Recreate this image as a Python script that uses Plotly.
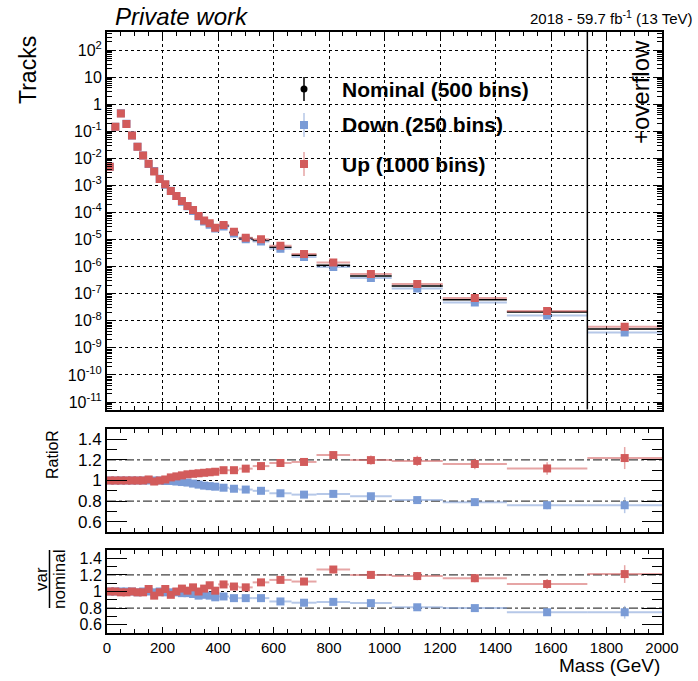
import plotly.graph_objects as go

# ---------------- data ----------------
bin_edges = [0, 20, 40, 60, 80, 100, 120, 140, 160, 180, 200, 220, 240, 260, 280, 300,
             320, 340, 360, 380, 400, 440, 475, 525, 585, 665, 755, 876, 1026, 1210,
             1441, 1731, 2000]
overflow_start = 1731

nominal = [4.9e-3, 0.148, 0.461, 0.188, 0.0692, 0.0272, 0.0127, 6.12e-3, 3.40e-3, 1.75e-3,
           1.06e-3, 6.43e-4, 4.07e-4, 2.54e-4, 1.72e-4, 1.17e-4, 7.41e-5, 4.84e-5, 3.71e-5,
           2.73e-5, 3.20e-5, 1.84e-5, 1.12e-5, 9.23e-6, 5.16e-6, 2.64e-6, 1.12e-6, 4.48e-7,
           1.93e-7, 5.97e-8, 2.10e-8, 4.98e-9]
down = [4.9e-3, 0.148, 0.461, 0.188, 0.0692, 0.0269, 0.0127, 6.12e-3, 3.37e-3, 1.75e-3,
        1.05e-3, 6.37e-4, 4.03e-4, 2.49e-4, 1.69e-4, 1.13e-4, 7.04e-5, 4.65e-5, 3.52e-5,
        2.54e-5, 3.01e-5, 1.69e-5, 1.03e-5, 8.49e-6, 4.54e-6, 2.28e-6, 9.80e-7, 3.85e-7,
        1.56e-7, 4.78e-8, 1.58e-8, 3.74e-9]
up = [4.9e-3, 0.148, 0.457, 0.186, 0.0692, 0.0269, 0.0126, 6.31e-3, 3.24e-3, 1.74e-3,
      1.10e-3, 6.17e-4, 4.07e-4, 2.63e-4, 1.74e-4, 1.23e-4, 7.41e-5, 5.01e-5, 3.98e-5,
      2.75e-5, 3.47e-5, 1.95e-5, 1.17e-5, 1.02e-5, 5.89e-6, 2.95e-6, 1.41e-6, 5.37e-7,
      2.29e-7, 6.92e-8, 2.29e-8, 6.03e-9]

ratioR_up = [1.0, 1.0, 1.0, 1.0, 1.0, 1.0, 1.0, 1.01, 0.99, 1.0, 1.01, 1.03, 1.04, 1.05,
             1.06, 1.065, 1.07, 1.075, 1.08, 1.085, 1.10, 1.10, 1.115, 1.14, 1.17, 1.18,
             1.247, 1.198, 1.19, 1.16, 1.117, 1.218]
ratioR_down = [1.0, 1.0, 1.0, 1.0, 1.0, 1.0, 1.0, 1.0, 1.0, 1.0, 0.995, 0.995, 0.99, 0.985,
               0.98, 0.97, 0.96, 0.95, 0.945, 0.94, 0.93, 0.92, 0.912, 0.90, 0.876, 0.863,
               0.87, 0.847, 0.81, 0.79, 0.76, 0.76]
var_up = [1.0, 1.0, 0.99, 0.99, 1.0, 0.99, 0.99, 1.03, 0.95, 0.99, 1.03, 0.96, 1.0, 1.035,
          1.01, 1.05, 1.0, 1.035, 1.075, 1.01, 1.085, 1.06, 1.05, 1.11, 1.14, 1.12, 1.265,
          1.20, 1.186, 1.16, 1.09, 1.21]
var_down = [1.0, 1.0, 1.0, 1.0, 1.0, 0.99, 1.0, 1.0, 0.99, 1.0, 0.99, 0.99, 0.99, 0.98,
            0.98, 0.97, 0.95, 0.96, 0.95, 0.93, 0.94, 0.92, 0.92, 0.92, 0.88, 0.865, 0.875,
            0.86, 0.81, 0.80, 0.75, 0.75]
err_up = [0.002] * 20 + [0.005, 0.006, 0.008, 0.01, 0.015, 0.02, 0.03, 0.045, 0.05, 0.05,
                         0.06, 0.107]
err_down = [0.002] * 20 + [0.005, 0.006, 0.008, 0.01, 0.012, 0.015, 0.02, 0.03, 0.03,
                           0.035, 0.04, 0.077]

x_ticks = [0, 200, 400, 600, 800, 1000, 1200, 1400, 1600, 1800, 2000]
ratio_ticks = [0.6, 0.8, 1.0, 1.2, 1.4]
ratio_ticktext = ["0.6", "0.8", "1", "1.2", "1.4"]
decades = list(range(-11, 3))

# ---------------- styling ----------------
RED = "#d25b5b"
BLUE = "#7a9bd6"
RED_L = "rgba(210,91,91,0.55)"
BLUE_L = "rgba(122,155,214,0.55)"
FONT = "Liberation Sans, Arial, sans-serif"

centers = [(a + b) / 2 for a, b in zip(bin_edges[:-1], bin_edges[1:])]
halfw = [(b - a) / 2 for a, b in zip(bin_edges[:-1], bin_edges[1:])]

W, H = 698, 681
L, R, T, B = 107, 36, 32, 48
PW, PH = W - L - R, H - T - B


def px(x):
    return (x - L) / PW


def py(y):
    return (H - B - y) / PH


fig = go.Figure()

# main panel
fig.add_trace(go.Scatter(x=centers, y=nominal, mode="markers", xaxis="x", yaxis="y",
                         marker=dict(symbol="circle", size=6, color="black"),
                         error_x=dict(type="data", array=halfw, width=0, thickness=1.5,
                                      color="black"),
                         showlegend=False))
fig.add_trace(go.Scatter(x=centers, y=down, mode="markers", xaxis="x", yaxis="y",
                         marker=dict(symbol="square", size=8, color=BLUE),
                         error_x=dict(type="data", array=halfw, width=0, thickness=2,
                                      color=BLUE_L),
                         showlegend=False))
fig.add_trace(go.Scatter(x=centers, y=up, mode="markers", xaxis="x", yaxis="y",
                         marker=dict(symbol="square", size=8, color=RED),
                         error_x=dict(type="data", array=halfw, width=0, thickness=2,
                                      color=RED_L),
                         showlegend=False))

# ratio panels
for ax, yu, yd in [("2", ratioR_up, ratioR_down), ("3", var_up, var_down)]:
    fig.add_trace(go.Scatter(x=centers, y=yd, mode="markers", xaxis="x" + ax, yaxis="y" + ax,
                             marker=dict(symbol="square", size=8, color=BLUE),
                             error_x=dict(type="data", array=halfw, width=0, thickness=2,
                                          color=BLUE_L),
                             error_y=dict(type="data", array=err_down, width=0, thickness=1.5,
                                          color=BLUE_L),
                             showlegend=False))
    fig.add_trace(go.Scatter(x=centers, y=yu, mode="markers", xaxis="x" + ax, yaxis="y" + ax,
                             marker=dict(symbol="square", size=8, color=RED),
                             error_x=dict(type="data", array=halfw, width=0, thickness=2,
                                          color=RED_L),
                             error_y=dict(type="data", array=err_up, width=0, thickness=1.5,
                                          color=RED_L),
                             showlegend=False))

xcommon = dict(range=[0, 2000], tickvals=x_ticks, ticks="inside", mirror="allticks",
               showline=True, linewidth=2, linecolor="black", tickcolor="black",
               minor=dict(dtick=50, tick0=0, ticks="inside", ticklen=4, tickcolor="black",
                          showgrid=False),
               tickfont=dict(family=FONT, size=15, color="black"), zeroline=False)

main_dom = [py(409.5), 1.0]
r1_dom = [py(532), py(429)]
r2_dom = [0.0, py(550)]

fig.update_layout(
    width=W, height=H,
    margin=dict(l=L, r=R, t=T, b=B),
    paper_bgcolor="white", plot_bgcolor="white",
    font=dict(family=FONT, color="black"),
    xaxis=dict(xcommon, anchor="y", domain=[0, 1], showticklabels=False, ticklen=8,
               showgrid=True, griddash="dot", gridcolor="black", gridwidth=1),
    yaxis=dict(type="log", range=[-11.275, 2.665], domain=main_dom, anchor="x",
               tickvals=[10.0 ** d for d in decades],
               ticktext=["10<sup>%d</sup>" % d if d not in (0, 1) else ("1" if d == 0 else "10")
                         for d in decades],
               ticks="inside", ticklen=9, mirror="allticks", showline=True, linewidth=2,
               linecolor="black", tickcolor="black",
               minor=dict(dtick="D1", ticks="inside", ticklen=5, tickcolor="black",
                          showgrid=False),
               showgrid=True, griddash="dot", gridcolor="black", gridwidth=1,
               tickfont=dict(family=FONT, size=16, color="black"), zeroline=False),
    xaxis2=dict(xcommon, anchor="y2", domain=[0, 1], showticklabels=False, ticklen=6,
                showgrid=False),
    yaxis2=dict(range=[0.5, 1.5], domain=r1_dom, anchor="x2", tickvals=ratio_ticks,
                ticktext=ratio_ticktext, ticks="inside", ticklen=20, mirror="allticks",
                showline=True, linewidth=2, linecolor="black", tickcolor="black",
                minor=dict(dtick=0.1, tick0=0, ticks="inside", ticklen=10, tickcolor="black"),
                showgrid=False, zeroline=False,
                tickfont=dict(family=FONT, size=17, color="black")),
    xaxis3=dict(xcommon, anchor="y3", domain=[0, 1], showticklabels=True, ticklen=6,
                showgrid=False),
    yaxis3=dict(range=[0.5, 1.5], domain=r2_dom, anchor="x3", tickvals=ratio_ticks,
                ticktext=ratio_ticktext, ticks="inside", ticklen=20, mirror="allticks",
                showline=True, linewidth=2, linecolor="black", tickcolor="black",
                minor=dict(dtick=0.1, tick0=0, ticks="inside", ticklen=10, tickcolor="black"),
                showgrid=False, zeroline=False,
                tickfont=dict(family=FONT, size=16, color="black")),
)

shapes = []
# legend background (hides grid)
shapes.append(dict(type="rect", xref="paper", yref="paper", x0=px(270), x1=px(555),
                   y0=py(182), y1=py(67), fillcolor="white", line=dict(width=0),
                   layer="between"))
# overflow boundary
shapes.append(dict(type="line", xref="x", yref="y domain", x0=overflow_start, x1=overflow_start,
                   y0=0, y1=1, line=dict(color="black", width=1.5)))
# ratio reference lines
for ax in ["2", "3"]:
    for v, dash in [(1.2, "dashdot"), (0.8, "dashdot"), (1.0, "dot")]:
        shapes.append(dict(type="line", xref="x" + ax, yref="y" + ax, x0=0, x1=2000, y0=v, y1=v,
                           line=dict(color="rgba(0,0,0,0.75)" if dash == "dashdot" else "black",
                                     width=1.2, dash=dash), layer="between"))

# legend symbols
leg = [(89, "black", "circle", "Nominal (500 bins)"),
       (125, BLUE, "square", "Down (250 bins)"),
       (164, RED, "square", "Up (1000 bins)")]
LX = 304
for yy, col, sym, label in leg:
    shapes.append(dict(type="line", xref="paper", yref="paper", x0=px(LX), x1=px(LX),
                       y0=py(yy + 12), y1=py(yy - 12),
                       line=dict(color=col if col == "black" else
                                 (BLUE_L if col == BLUE else RED_L), width=1.5)))
    if sym == "circle":
        shapes.append(dict(type="circle", xref="paper", yref="paper", x0=px(LX - 3.5),
                           x1=px(LX + 3.5), y0=py(yy + 3.5), y1=py(yy - 3.5),
                           fillcolor=col, line=dict(color=col, width=0)))
    else:
        shapes.append(dict(type="rect", xref="paper", yref="paper", x0=px(LX - 4),
                           x1=px(LX + 4), y0=py(yy + 4), y1=py(yy - 4),
                           fillcolor=col, line=dict(color=col, width=0)))
# fraction bar for var/nominal
shapes.append(dict(type="line", xref="paper", yref="paper", x0=px(49.5), x1=px(49.5),
                   y0=py(608), y1=py(550), line=dict(color="black", width=1.5)))

annotations = []
for yy, col, sym, label in leg:
    annotations.append(dict(xref="paper", yref="paper", x=px(340), y=py(yy), text="<b>%s</b>" % label,
                            showarrow=False, xanchor="left", yanchor="middle",
                            font=dict(family=FONT, size=21, color="black")))
annotations += [
    dict(xref="paper", yref="paper", x=px(113), y=py(16), text="<i>Private work</i>",
         showarrow=False, xanchor="left", yanchor="middle",
         font=dict(family=FONT, size=24, color="black")),
    dict(xref="paper", yref="paper", x=px(695), y=py(17),
         text="2018 - 59.7 fb<sup>-1</sup> (13 TeV)", showarrow=False, xanchor="right",
         yanchor="middle", font=dict(family=FONT, size=15, color="black")),
    dict(xref="paper", yref="paper", x=px(28), y=py(34), text="Tracks", textangle=-90,
         showarrow=False, xanchor="center", yanchor="top",
         font=dict(family=FONT, size=23, color="black")),
    dict(xref="paper", yref="paper", x=px(640), y=py(92), text="+overflow", textangle=-90,
         showarrow=False, xanchor="center", yanchor="middle",
         font=dict(family=FONT, size=24, color="black")),
    dict(xref="paper", yref="paper", x=px(52), y=py(455), text="RatioR", textangle=-90,
         showarrow=False, xanchor="center", yanchor="middle",
         font=dict(family=FONT, size=16, color="black")),
    dict(xref="paper", yref="paper", x=px(41), y=py(579), text="var", textangle=-90,
         showarrow=False, xanchor="center", yanchor="middle",
         font=dict(family=FONT, size=17, color="black")),
    dict(xref="paper", yref="paper", x=px(59), y=py(579), text="nominal", textangle=-90,
         showarrow=False, xanchor="center", yanchor="middle",
         font=dict(family=FONT, size=17, color="black")),
    dict(xref="paper", yref="paper", x=px(662), y=py(665), text="Mass (GeV)",
         showarrow=False, xanchor="right", yanchor="middle",
         font=dict(family=FONT, size=19, color="black")),
]

fig.update_layout(shapes=shapes, annotations=annotations)
fig.write_html("out.html", config={"displayModeBar": False},
               post_script="document.body.style.margin='0';document.body.style.overflow='hidden';")
